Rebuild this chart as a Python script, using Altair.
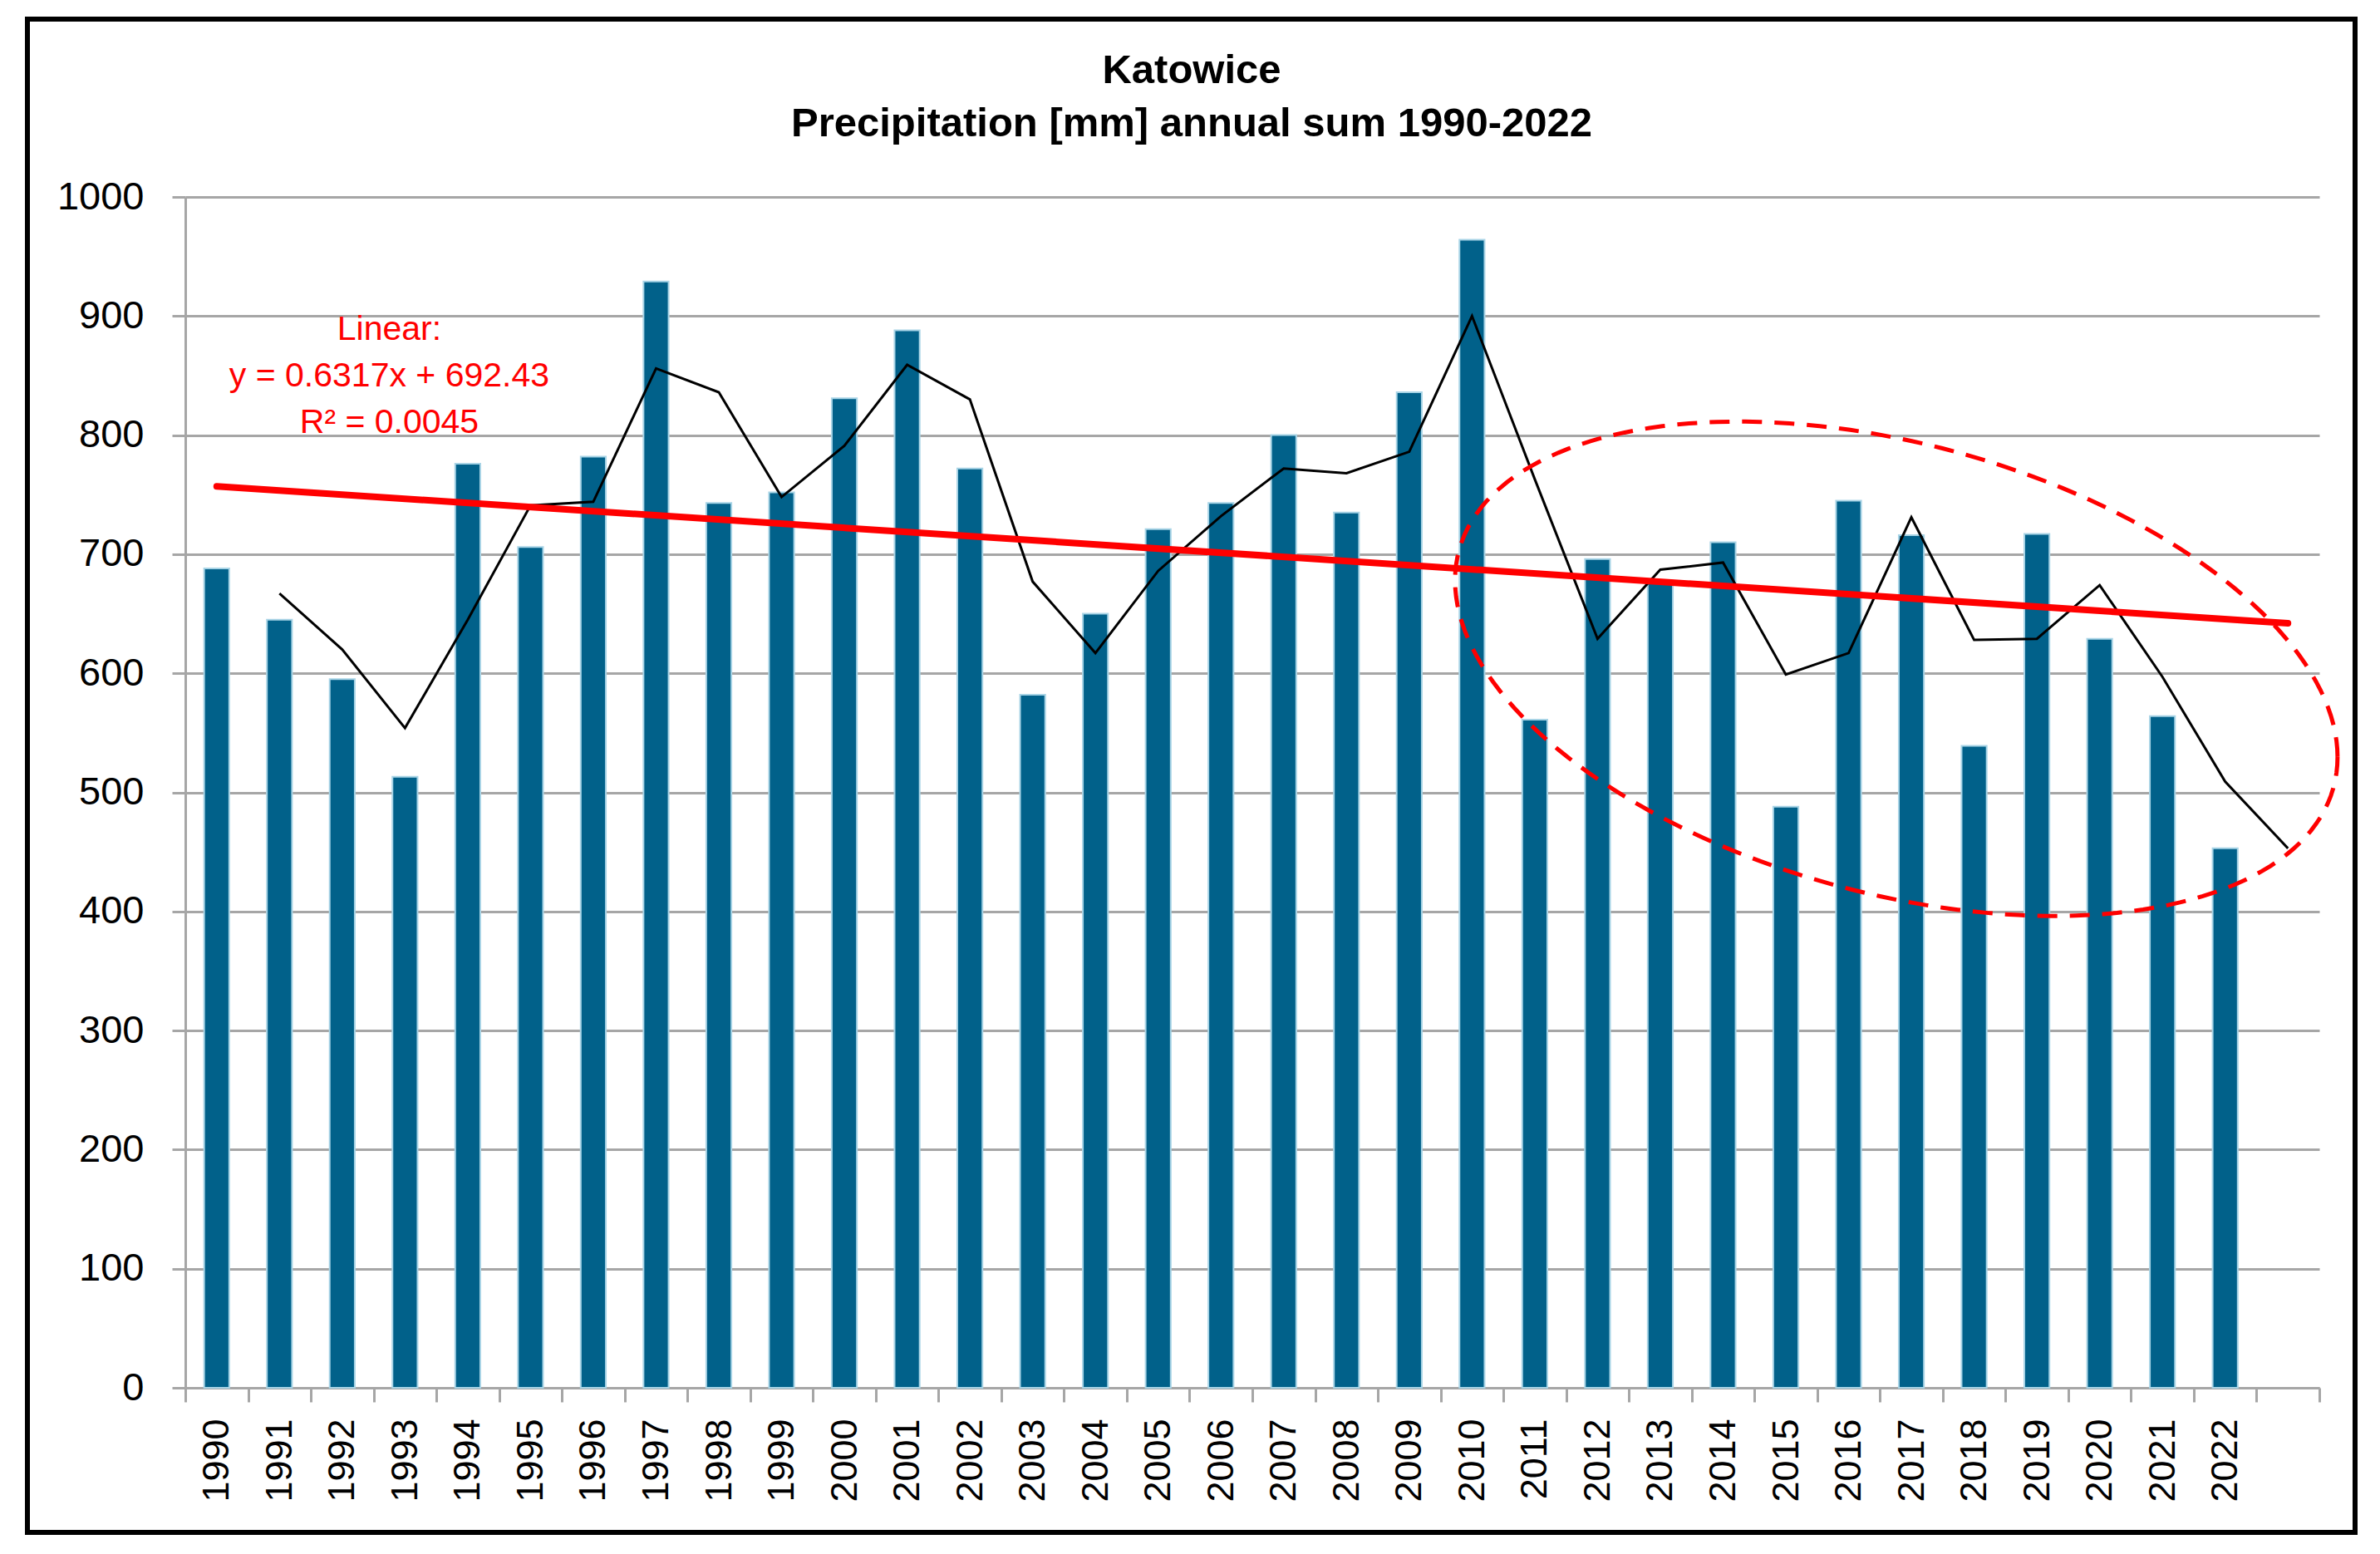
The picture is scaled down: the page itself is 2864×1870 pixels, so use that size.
import altair as alt
import pandas as pd

# ---- data ----
years = list(range(1990, 2023))
precip = [688, 645, 595, 513, 776, 706, 782, 929, 743, 752, 831, 888, 772, 582, 650,
          721, 743, 800, 735, 836, 964, 561, 696, 678, 710, 488, 745, 716, 539, 717,
          629, 564, 453]
ma_years = list(range(1991, 2024))
ma_values = [667, 620, 554, 645, 741, 744, 856, 836, 748, 791, 859, 830, 677, 617, 686,
             732, 772, 768, 786, 900, 763, 629, 687, 693, 599, 617, 731, 628, 629, 674,
             597, 509, 453]
trend_years = [1990, 2023]
trend_values = [757, 642]
ann_x = [1992.75, 1992.75, 1992.75]
ann_y = [880, 841, 802]
ann_text = ["Linear:", "y = 0.6317x + 692.43", "R\u00b2 = 0.0045"]
y_ticks = list(range(0, 1001, 100))
x_ticks = [1989.5 + 0.5 * i for i in range(69)]

# ellipse annotation parameters (data units)
ell_cx, ell_cy = 2016.76, 603.8
ell_w, ell_c, ell_k = 7.03, 74.1, 193.9

W, H = 2568, 1433
GRAY = "#a6a6a6"
FONT = "Liberation Sans"

xscale = alt.Scale(domain=[1989.5, 2023.5], nice=False, zero=False)
yscale = alt.Scale(domain=[0, 1000], nice=False)

xaxis = alt.Axis(
    values=x_ticks,
    labelExpr="(datum.value % 1 == 0 && datum.value < 2023) ? toString(datum.value) : ''",
    labelAngle=270, labelFontSize=45, labelFont=FONT, labelColor="#000000",
    labelOverlap=False, labelFlush=False, labelBound=False, labelPadding=20,
    tickOpacity={"condition": {"test": "datum.value % 1 != 0", "value": 1}, "value": 0},
    tickSize=17, tickWidth=3, tickColor=GRAY,
    domainColor=GRAY, domainWidth=3, grid=False, title=None,
)
yaxis = alt.Axis(
    values=y_ticks, format="d", labelFontSize=47, labelFont=FONT, labelColor="#000000",
    labelPadding=34, tickSize=16, tickWidth=3, tickColor=GRAY,
    domainColor=GRAY, domainWidth=3, grid=True, gridColor=GRAY, gridWidth=3,
    title=None,
)

bars_df = pd.DataFrame({"year": years, "value": precip})
ma_df = pd.DataFrame({"year": ma_years, "value": ma_values})
trend_df = pd.DataFrame({"year": trend_years, "value": trend_values})
ann_df = pd.DataFrame({"year": ann_x, "value": ann_y, "text": ann_text})

bars = alt.Chart(bars_df).transform_calculate(
    x0="datum.year - 0.2", x1="datum.year + 0.2"
).mark_bar(color="#01618a", stroke="#a8d4e6", strokeWidth=2).encode(
    x=alt.X("x0:Q", scale=xscale, axis=xaxis, title=None),
    x2="x1:Q",
    y=alt.Y("value:Q", scale=yscale, axis=yaxis, title=None),
    y2=alt.datum(0),
)

ma_line = alt.Chart(ma_df).mark_line(color="#000000", strokeWidth=3).encode(
    x=alt.X("year:Q", scale=xscale, axis=xaxis, title=None),
    y=alt.Y("value:Q", scale=yscale, axis=yaxis, title=None),
)

trend = alt.Chart(trend_df).mark_line(color="#ff0000", strokeWidth=8, strokeCap="round").encode(
    x=alt.X("year:Q", scale=xscale, axis=xaxis, title=None),
    y=alt.Y("value:Q", scale=yscale, axis=yaxis, title=None),
)

ellipse = alt.Chart(alt.sequence(0, 362, 2, as_="t")).transform_calculate(
    ex=f"{ell_cx} + {ell_w} * cos(datum.t * PI / 180)",
    ey=f"{ell_cy} - {ell_c} * cos(datum.t * PI / 180) + {ell_k} * sin(datum.t * PI / 180)",
).mark_line(color="#ff0000", strokeWidth=5, strokeDash=[24, 15]).encode(
    x=alt.X("ex:Q", scale=xscale, axis=xaxis, title=None),
    y=alt.Y("ey:Q", scale=yscale, axis=yaxis, title=None),
    order="t:Q",
)

ann = alt.Chart(ann_df).mark_text(
    color="#ff0000", font=FONT, fontSize=41, align="center", baseline="alphabetic"
).encode(
    x=alt.X("year:Q", scale=xscale, axis=xaxis, title=None),
    y=alt.Y("value:Q", scale=yscale, axis=yaxis, title=None),
    text="text:N",
)

frame = alt.Chart(pd.DataFrame({"k": [0]})).mark_rect(
    filled=False, stroke="#000000", strokeWidth=6
).encode(
    x=alt.value(-190), x2=alt.value(2611), y=alt.value(-214), y2=alt.value(1607)
)

chart = alt.layer(bars, ma_line, trend, ellipse, ann, frame).properties(
    width=W, height=H,
    title=alt.TitleParams(
        text=["Katowice", "Precipitation [mm] annual sum 1990-2022"],
        font=FONT, fontSize=49, fontWeight="bold", color="#000000",
        lineHeight=64, anchor="middle", dx=-73, offset=-154,
    ),
    autosize=alt.AutoSizeParams(type="none"),
    padding={"left": 215, "top": 229, "right": 55, "bottom": 185},
    background="#ffffff",
).configure_view(stroke=None)

chart.save("out.html", embed_options={"renderer": "svg", "actions": False})
